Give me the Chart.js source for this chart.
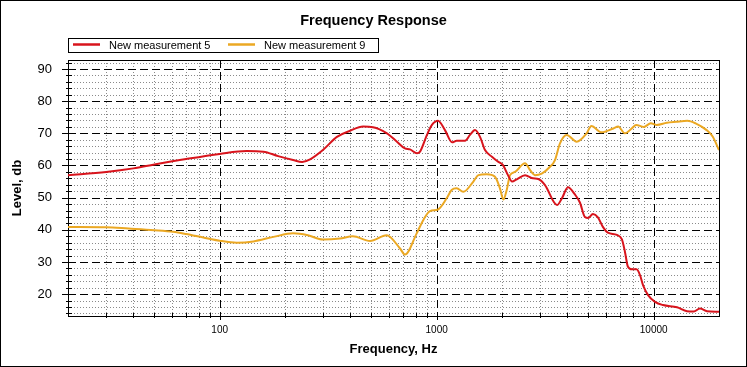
<!DOCTYPE html>
<html>
<head>
<meta charset="utf-8">
<title>Frequency Response</title>
<script src="https://cdn.jsdelivr.net/npm/chart.js@4.4.1/dist/chart.umd.min.js"></script>
<style>
  body { margin: 0; background: #fff; }
  canvas { display: block; }
</style>
</head>
<body>
<canvas id="FrequencyResponseCanvas" width="747" height="367"></canvas>
<script>
// Values (Hz / dB)
const seriesNames = ['New measurement 5', 'New measurement 9'];

const freq5 = [20, 30, 40, 50, 70, 100, 133, 159, 186, 218, 240, 261, 299, 347, 399, 458, 509, 590, 656, 714,
    753, 811, 838, 902, 951, 1014, 1092, 1177, 1236, 1351, 1424, 1502, 1584, 1670, 1798, 1918, 2021, 2131, 2225, 2340,
    2554, 2780, 2940, 3157, 3585, 3778, 4027, 4335, 4571, 4820, 5000, 5248, 5533, 5834, 6152, 6770, 7140, 7370, 7610, 7940,
    8340, 8650, 8930, 9420, 10140, 11040, 12810, 14240, 15300, 16340, 17600, 20000];
const level5 = [57.0, 58.0, 59.1, 60.3, 62.0, 63.6, 64.5, 64.3, 62.9, 61.7, 61.1, 61.9, 64.8, 68.9, 70.8, 72.1, 71.9, 70.0, 67.4, 65.3,
    65.0, 63.8, 64.3, 69.5, 72.6, 73.9, 71.0, 67.2, 67.7, 67.7, 69.5, 71.0, 68.9, 64.8, 62.7, 61.2, 60.1, 57.0, 55.0, 55.7,
    57.0, 56.0, 55.8, 53.9, 47.7, 49.8, 53.2, 51.0, 48.5, 44.0, 43.7, 44.9, 43.9, 40.9, 39.1, 38.4, 37.0, 33.2, 28.5, 27.7,
    27.7, 25.9, 22.8, 19.7, 17.6, 16.6, 15.9, 14.7, 14.6, 15.5, 14.7, 14.5];

const freq9 = [20, 30, 38, 50, 61, 70, 84, 100, 120, 143, 177, 218, 255, 299, 358, 411, 493, 588, 678, 714,
    809, 867, 931, 1014, 1112, 1172, 1236, 1326, 1476, 1556, 1700, 1857, 1957, 2030, 2103, 2178, 2296, 2554, 2692, 2838,
    3049, 3329, 3509, 3700, 3973, 4416, 4910, 5160, 5755, 6515, 6860, 7370, 7920, 8300, 9000, 9700, 10330, 11500, 12700, 14300,
    15600, 17540, 18700, 20000];
const level9 = [40.9, 40.8, 40.4, 39.9, 39.4, 38.7, 37.6, 36.6, 36.0, 36.4, 37.8, 38.9, 38.3, 37.0, 37.3, 38.0, 36.5, 38.3, 34.2, 32.3,
    38.9, 43.0, 45.8, 46.3, 49.8, 52.4, 52.9, 51.8, 55.0, 57.0, 57.3, 56.5, 52.9, 49.4, 52.4, 57.0, 58.0, 60.7, 58.6, 57.0,
    57.5, 59.6, 61.7, 66.9, 69.5, 67.4, 70.0, 72.3, 70.3, 71.5, 72.1, 70.0, 71.5, 72.6, 72.0, 73.1, 72.6, 73.3, 73.6, 73.9,
    73.1, 71.0, 69.0, 64.8];

const yTicks = [20, 30, 40, 50, 60, 70, 80, 90];
const xTicks = [100, 1000, 10000];

const colors = ['#d8141c', '#eba823'];
const fontFamily = '"Liberation Sans", Arial, sans-serif';

// grid, frame, ticks, title and boxed legend drawn the way the original app does
const frameGrid = {
    id: 'frameGrid',
    beforeDatasetsDraw(chart) {
        const { ctx, chartArea: a, scales: { x, y } } = chart;
        const px = v => Math.round(x.getPixelForValue(v)) + 0.5;
        const py = v => Math.round(y.getPixelForValue(v)) + 0.5;
        const line = (x1, y1, x2, y2) => { ctx.beginPath(); ctx.moveTo(x1, y1); ctx.lineTo(x2, y2); ctx.stroke(); };
        const minorX = [];
        [10, 100, 1000, 10000].forEach(d => {
            for (let k = 2; k <= 9; k++) {
                const f = k * d;
                if (f > 20 && f < 20000) minorX.push(f);
            }
        });
        const minorY = [];
        for (let v = 14; v < 93; v += 2) if (v % 10) minorY.push(v);

        ctx.save();
        ctx.lineWidth = 1;
        // dotted minor grid
        ctx.strokeStyle = '#8a8a8a';
        ctx.setLineDash([1, 2]);
        minorY.forEach(v => line(a.left, py(v), a.right, py(v)));
        minorX.forEach(f => line(px(f), a.top, px(f), a.bottom));
        // dashed major grid
        ctx.strokeStyle = '#000';
        ctx.setLineDash([8, 4]);
        yTicks.forEach(v => line(a.left, py(v), a.right, py(v)));
        xTicks.forEach(f => line(px(f), a.top, px(f), a.bottom + 4));
        // tick marks
        ctx.setLineDash([]);
        minorY.forEach(v => line(a.left - 2, py(v), a.left + 4, py(v)));
        yTicks.forEach(v => line(a.left - 6, py(v), a.left + 4, py(v)));
        minorX.forEach(f => line(px(f), a.bottom - 3, px(f), a.bottom + 2));
        // frame
        ctx.strokeRect(Math.round(a.left) + 0.5, Math.round(a.top) + 0.5,
            Math.round(a.right - a.left), Math.round(a.bottom - a.top));
        ctx.restore();
    },
    afterDraw(chart) {
        const { ctx, width, height } = chart;
        ctx.save();
        ctx.strokeStyle = '#000';
        ctx.lineWidth = 1;
        ctx.strokeRect(0.5, 0.5, width - 1, height - 1);

        ctx.fillStyle = '#000';
        ctx.textAlign = 'center';
        ctx.textBaseline = 'alphabetic';
        ctx.font = 'bold 14.5px ' + fontFamily;
        ctx.fillText('Frequency Response', 373.5, 25);

        // legend box
        ctx.strokeRect(68.5, 38.5, 310, 14);
        ctx.font = '11px ' + fontFamily;
        ctx.textAlign = 'left';
        const items = [[73, 109], [228, 264]];
        items.forEach(([lx, tx], i) => {
            ctx.strokeStyle = colors[i];
            ctx.lineWidth = 2.5;
            ctx.beginPath();
            ctx.moveTo(lx, 44.5);
            ctx.lineTo(lx + 27, 44.5);
            ctx.stroke();
            ctx.fillText(seriesNames[i], tx, 48.5);
        });
        ctx.restore();
    }
};

const ctx = document.getElementById('FrequencyResponseCanvas').getContext('2d');
new Chart(ctx, {
    type: 'line',
    data: {
        datasets: [{
            label: seriesNames[0],
            data: freq5.map((f, i) => ({ x: f, y: level5[i] })),
            borderColor: colors[0],
            backgroundColor: colors[0],
            borderWidth: 2,
            pointRadius: 0,
            cubicInterpolationMode: 'monotone'
        }, {
            label: seriesNames[1],
            data: freq9.map((f, i) => ({ x: f, y: level9[i] })),
            borderColor: colors[1],
            backgroundColor: colors[1],
            borderWidth: 2,
            pointRadius: 0,
            cubicInterpolationMode: 'monotone'
        }]
    },
    options: {
        responsive: false,
        animation: false,
        layout: { padding: { top: 60, right: 28, left: 0, bottom: 0 } },
        plugins: {
            legend: { display: false },
            title: { display: false },
            tooltip: { enabled: false }
        },
        scales: {
            x: {
                type: 'logarithmic',
                min: 20,
                max: 20000,
                grid: { display: false, drawTicks: false },
                border: { display: false },
                afterBuildTicks: scale => { scale.ticks = xTicks.map(v => ({ value: v })); },
                afterFit: scale => { scale.height = 51; },
                ticks: {
                    autoSkip: false,
                    maxRotation: 0,
                    padding: 8,
                    color: '#000',
                    font: { family: fontFamily, size: 10 },
                    callback: v => String(v)
                },
                title: {
                    display: true,
                    text: 'Frequency, Hz',
                    color: '#000',
                    padding: { top: 0, bottom: 10 },
                    font: { family: fontFamily, size: 13, weight: 'bold' }
                }
            },
            y: {
                min: 13.2,
                max: 92.8,
                grid: { display: false, drawTicks: false },
                border: { display: false },
                afterBuildTicks: scale => { scale.ticks = yTicks.map(v => ({ value: v })); },
                afterFit: scale => { scale.width = 68; },
                ticks: {
                    padding: 16,
                    color: '#000',
                    font: { family: fontFamily, size: 13 }
                },
                title: {
                    display: true,
                    text: 'Level, db',
                    color: '#000',
                    padding: { top: 10, bottom: 0 },
                    font: { family: fontFamily, size: 13, weight: 'bold' }
                }
            }
        }
    },
    plugins: [frameGrid]
});
</script>
</body>
</html>
